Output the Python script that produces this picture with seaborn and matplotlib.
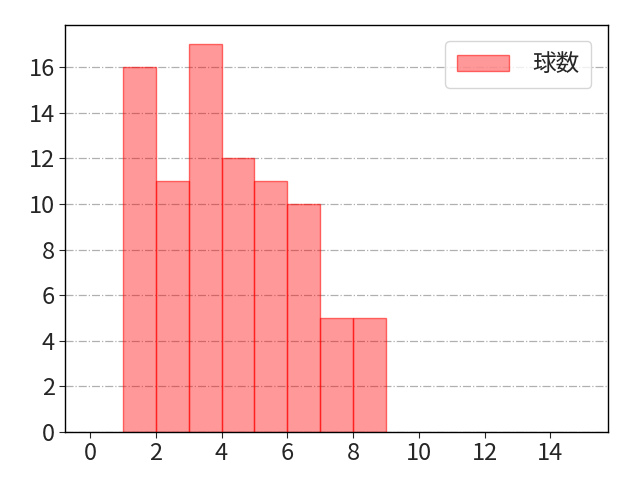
import matplotlib
matplotlib.use("Agg")
import matplotlib.pyplot as plt
import seaborn as sns
import numpy as np

# pitch count per bin (bin left edges 1..8)
bin_left = [1, 2, 3, 4, 5, 6, 7, 8]
counts = [16, 11, 17, 12, 11, 10, 5, 5]
bin_edges = list(range(1, 10))
x_ticks = [0, 2, 4, 6, 8, 10, 12, 14]
label = "球数"

sns.set_style("white")
plt.rcParams['font.family'] = ['Noto Sans CJK JP', 'DejaVu Sans']

fig, ax = plt.subplots(figsize=(6.4, 4.8), dpi=100)
sns.histplot(x=bin_left, weights=counts, bins=bin_edges, ax=ax,
             color="red", alpha=0.4, edgecolor="red", linewidth=1,
             label=label, stat="count")
for p in ax.patches:
    p.set_edgecolor((1, 0, 0, 0.55))
ax.set_xlim(-0.75, 15.75)
ax.set_ylim(0, 17.85)
ax.set_xticks(x_ticks)
ax.set_yticks(np.arange(0, 17, 2))
ax.set_xlabel("")
ax.set_ylabel("")
ax.grid(axis="y", linestyle="-.", color="#b0b0b0", linewidth=0.9)
ax.set_axisbelow(True)
ax.tick_params(labelsize=17, bottom=True, left=True, length=4)
for s in ax.spines.values():
    s.set_color("black")
    s.set_linewidth(1)
ax.legend(fontsize=17, loc="upper right", handlelength=2.2, handletextpad=1.0,
          borderpad=0.5, borderaxespad=0.7)
plt.subplots_adjust(left=0.102, right=0.95, top=0.948, bottom=0.1)
fig.savefig("out.png", dpi=100)
